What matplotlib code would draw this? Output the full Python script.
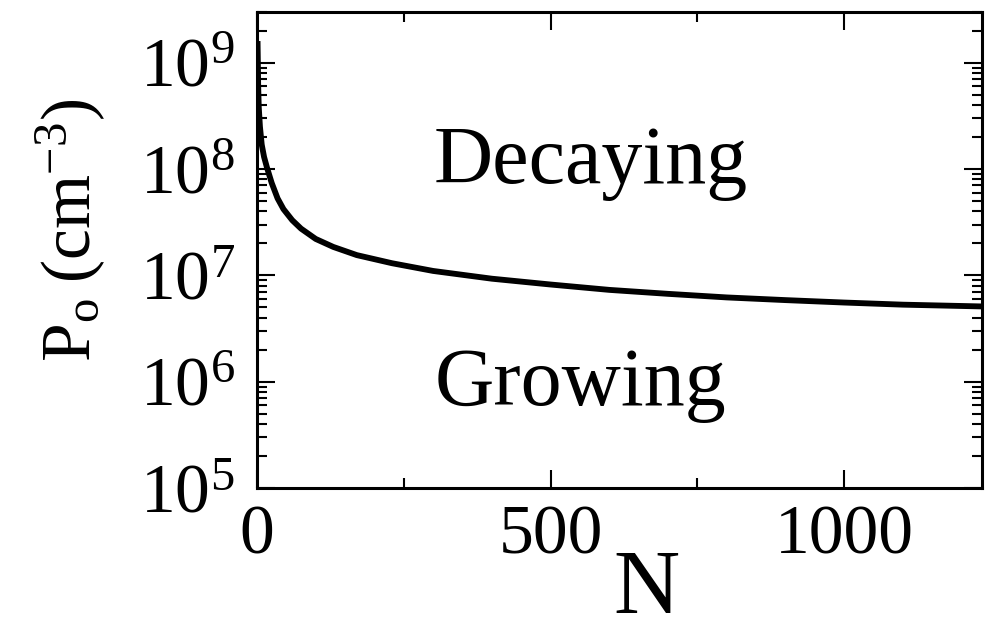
import matplotlib
matplotlib.use("Agg")
import matplotlib.pyplot as plt
from matplotlib.ticker import MultipleLocator, LogLocator, NullFormatter

# --- data ---
N_vals = [1, 2, 3, 5, 8, 12, 17, 25, 35, 45, 60, 75, 100, 130, 170,
          230, 300, 400, 500, 600, 700, 800, 900, 1000, 1100, 1235]
P_vals = [1.5e9, 6.0e8, 3.8e8, 2.5e8, 1.7e8, 1.3e8, 1.03e8, 7.4e7, 5.3e7,
          4.2e7, 3.3e7, 2.75e7, 2.2e7, 1.85e7, 1.55e7, 1.3e7, 1.1e7, 9.3e6,
          8.2e6, 7.3e6, 6.7e6, 6.2e6, 5.85e6, 5.55e6, 5.3e6, 5.1e6]

region_labels = ["Decaying", "Growing"]

plt.rcParams['font.family'] = ['Liberation Serif', 'DejaVu Serif']
plt.rcParams['mathtext.fontset'] = 'custom'
plt.rcParams['mathtext.rm'] = 'Liberation Serif'
plt.rcParams['mathtext.it'] = 'Liberation Serif:italic'

fig = plt.figure(figsize=(9.87, 6.3), dpi=100)
ax = fig.add_axes([0.2604, 0.2254, 0.7346, 0.7556])

ax.plot(N_vals, P_vals, '-', color='black', linewidth=4.2,
        solid_joinstyle='round')

ax.set_yscale('log')
ax.set_xlim(0, 1235)
ax.set_ylim(1e5, 3e9)

ax.xaxis.set_major_locator(MultipleLocator(500))
ax.xaxis.set_minor_locator(MultipleLocator(250))
ax.yaxis.set_major_locator(LogLocator(base=10, numticks=10))
ax.yaxis.set_minor_locator(LogLocator(base=10, subs=range(2, 10), numticks=20))
ax.yaxis.set_minor_formatter(NullFormatter())

ax.tick_params(which='both', direction='in', top=True, right=True, width=1.5)
ax.tick_params(which='major', length=13, labelsize=50, pad=12)
ax.tick_params(which='minor', length=7)
ax.tick_params(axis='y', which='major', pad=16)
for s in ax.spines.values():
    s.set_linewidth(2.2)

ax.set_xlabel('N', fontsize=66)
ax.xaxis.set_label_coords(0.537, -0.129)
ax.set_ylabel(r'$\mathrm{P_o\;(cm^{-3})}$', fontsize=50)
ax.yaxis.set_label_coords(-0.205, 0.54)

ax.text(0.243, 0.641, region_labels[0], transform=ax.transAxes,
        fontsize=59, ha='left', va='baseline')
ax.text(0.2455, 0.174, region_labels[1], transform=ax.transAxes,
        fontsize=59, ha='left', va='baseline')

fig.savefig('out.png', dpi=100)
